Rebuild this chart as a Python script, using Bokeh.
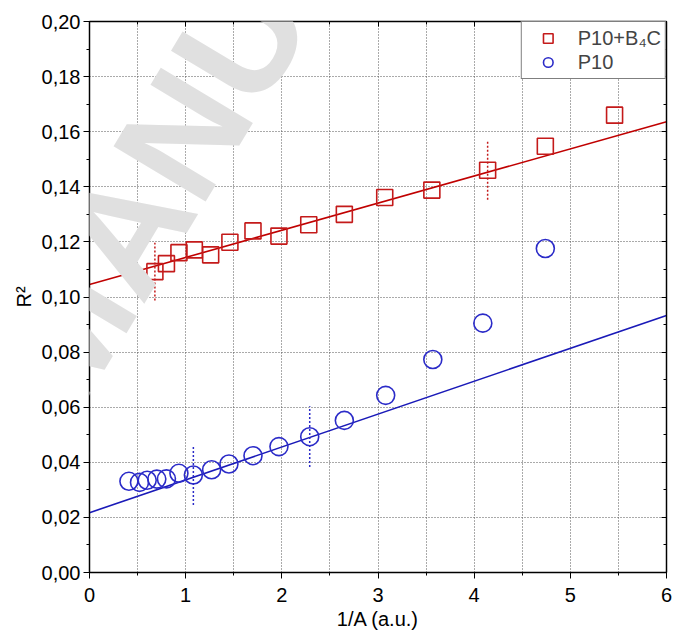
from bokeh.plotting import figure
from bokeh.models import (LinearAxis, SingleIntervalTicker, CustomJSTickFormatter,
                          Label, Range1d, ColumnDataSource)
from bokeh.embed import file_html
from bokeh.resources import INLINE

# ---------------- data ----------------
red_x = [0.68, 0.80, 0.93, 1.09, 1.26, 1.46, 1.70, 1.97, 2.28, 2.65, 3.07, 3.56, 4.14, 4.74, 5.46]
red_y = [0.1092, 0.1121, 0.1161, 0.1171, 0.1153, 0.1199, 0.1240, 0.1221, 0.1262, 0.1300,
         0.1361, 0.1388, 0.1460, 0.1547, 0.1660]
red_err = [0.0105, 0, 0, 0, 0, 0, 0, 0, 0, 0, 0, 0, 0.0107, 0, 0]

blue_x = [0.41, 0.52, 0.60, 0.70, 0.80, 0.93, 1.08, 1.27, 1.45, 1.70, 1.97, 2.29, 2.65,
          3.08, 3.57, 4.09, 4.74]
blue_y = [0.0331, 0.0327, 0.0335, 0.0339, 0.0340, 0.0360, 0.0354, 0.0373, 0.0394, 0.0424,
          0.0457, 0.0493, 0.0552, 0.0643, 0.0773, 0.0905, 0.1176]
blue_err = [0, 0, 0, 0, 0, 0, 0.0109, 0, 0, 0, 0, 0.0110, 0, 0, 0, 0, 0]

red_fit = (0.1045, 0.00985)   # intercept, slope
blue_fit = (0.0217, 0.01193)
fit_x = [0, 6]

red_label = "P10+B\u2084C"
blue_label = "P10"
x_title = "1/A (a.u.)"
y_title = "R\u00b2"
watermark = "MANUSCRIPT"

RED = "#c41a1a"
RED_LINE = "#c00000"
BLUE = "#2b2bc8"
BLUE_LINE = "#1a1ab8"
FONT = "Liberation Sans"

p = figure(width=679, height=635, x_range=Range1d(0, 6), y_range=Range1d(0, 0.2),
           output_backend="svg", toolbar_location=None,
           min_border_left=89, min_border_right=13, min_border_top=21, min_border_bottom=63)
p.background_fill_color = "white"
p.outline_line_color = "black"
p.outline_line_width = 1.2

xt = SingleIntervalTicker(interval=1, num_minor_ticks=2)
yt = SingleIntervalTicker(interval=0.02, num_minor_ticks=2)

left = p.left[0]
bottom = p.below[0]
left.ticker = yt
bottom.ticker = xt
left.formatter = CustomJSTickFormatter(code="return tick.toFixed(2).replace('.', ',');")
bottom.formatter = CustomJSTickFormatter(code="return tick.toFixed(0);")
for ax in (left, bottom):
    ax.axis_line_color = "black"
    ax.axis_line_width = 1.3
    ax.major_tick_line_color = "black"
    ax.minor_tick_line_color = "black"
    ax.major_tick_out = 6
    ax.major_tick_in = 0
    ax.minor_tick_out = 3
    ax.minor_tick_in = 0
    ax.major_label_text_font = FONT
    ax.major_label_text_font_size = "20px"
    ax.major_label_text_color = "black"
    ax.axis_label_text_font = FONT
    ax.axis_label_text_font_size = "20px"
    ax.axis_label_text_font_style = "normal"
    ax.axis_label_text_color = "black"
left.major_label_standoff = 3
left.axis_label = y_title
left.axis_label_standoff = 4
bottom.major_label_standoff = 9
bottom.axis_label = x_title
bottom.axis_label_standoff = 3

for side, tk in (("right", yt), ("above", xt)):
    ax = LinearAxis(ticker=SingleIntervalTicker(interval=tk.interval, num_minor_ticks=2),
                    formatter=CustomJSTickFormatter(code="return '';"),
                    major_tick_in=5, major_tick_out=0, minor_tick_in=3, minor_tick_out=0,
                    major_label_standoff=0, major_label_text_font_size="1px",
                    axis_line_color="black", axis_line_width=1.3)
    p.add_layout(ax, side)

p.xgrid.ticker = SingleIntervalTicker(interval=0.5)
p.ygrid.ticker = SingleIntervalTicker(interval=0.02)
for g in (p.xgrid, p.ygrid):
    g.grid_line_color = "#555555"
    g.grid_line_dash = "1 2"
    g.grid_line_width = 1

# fit lines
p.line(fit_x, [red_fit[0] + red_fit[1] * x for x in fit_x], line_color=RED_LINE, line_width=1.6)
p.line(fit_x, [blue_fit[0] + blue_fit[1] * x for x in fit_x], line_color=BLUE_LINE, line_width=1.6)

# error bars (dotted)
def err_source(xs, ys, es):
    d = dict(x=[], y0=[], y1=[])
    for x, y, e in zip(xs, ys, es):
        if e > 0:
            d["x"].append(x); d["y0"].append(y - e); d["y1"].append(y + e)
    return ColumnDataSource(d)

p.segment(x0="x", y0="y0", x1="x", y1="y1", source=err_source(red_x, red_y, red_err),
          line_color=RED, line_width=1.5, line_dash="2 2")
p.segment(x0="x", y0="y0", x1="x", y1="y1", source=err_source(blue_x, blue_y, blue_err),
          line_color=BLUE, line_width=1.5, line_dash="2 2")

p.scatter(red_x, red_y, marker="square", size=16, fill_color=None, line_color=RED,
          line_width=1.6, legend_label=red_label)
p.scatter(blue_x, blue_y, marker="circle", size=18, fill_color=None, line_color=BLUE,
          line_width=1.6, legend_label=blue_label)

lg = p.legend[0]
lg.location = "top_right"
lg.margin = 0
lg.padding = 4
lg.spacing = 0
lg.glyph_width = 44
lg.glyph_height = 24
lg.label_height = 20
lg.label_standoff = 8
lg.label_text_font = FONT
lg.label_text_font_size = "20px"
lg.border_line_color = "black"
lg.border_line_width = 1
lg.background_fill_alpha = 1

# watermark
p.add_layout(Label(x=-0.63, y=0.066, text=watermark, angle=59, angle_units="deg",
                   text_font=FONT, text_font_style="bold", text_font_size="156px",
                   text_color="#e0e0e0", text_align="left", text_baseline="alphabetic",
                   level="overlay"))

open("out.html", "w").write(file_html(p, INLINE))
